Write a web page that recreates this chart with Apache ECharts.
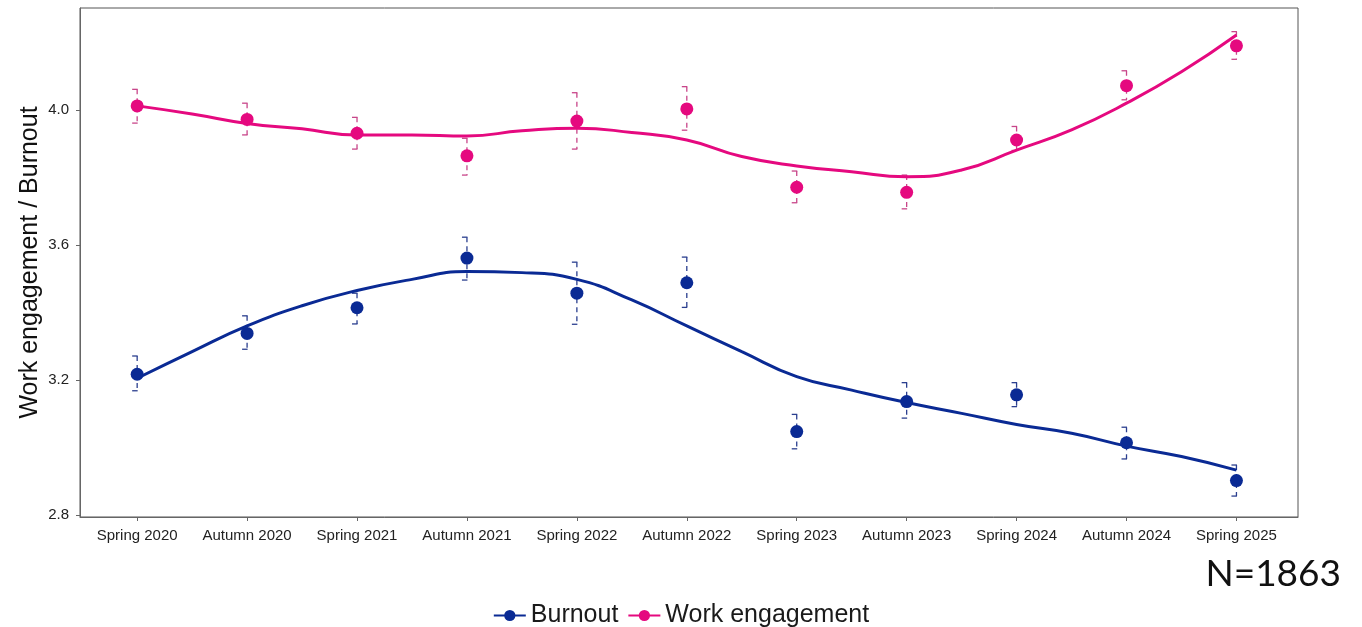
<!DOCTYPE html>
<html>
<head>
<meta charset="utf-8">
<script src="https://cdn.jsdelivr.net/npm/echarts@6/dist/echarts.min.js"></script>
<style>
  html, body { margin: 0; padding: 0; background: #fff; }
  #chart { width: 1362px; height: 627px; }
</style>
</head>
<body>
<div id="chart"></div>
<script>
// Survey waves
const categories = ['Spring 2020', 'Autumn 2020', 'Spring 2021', 'Autumn 2021', 'Spring 2022', 'Autumn 2022',
  'Spring 2023', 'Autumn 2023', 'Spring 2024', 'Autumn 2024', 'Spring 2025'];

// Burnout: wave means and confidence limits
const burnoutMean = [3.217, 3.338, 3.414, 3.561, 3.457, 3.488, 3.047, 3.136, 3.156, 3.014, 2.902];
const burnoutLow  = [3.168, 3.291, 3.366, 3.496, 3.365, 3.415, 2.996, 3.087, 3.121, 2.966, 2.856];
const burnoutHigh = [3.271, 3.390, 3.457, 3.623, 3.549, 3.564, 3.098, 3.192, 3.192, 3.060, 2.948];

// Work engagement: wave means and confidence limits
const engagementMean = [4.012, 3.972, 3.931, 3.864, 3.967, 4.003, 3.771, 3.756, 3.911, 4.072, 4.190];
const engagementLow  = [3.961, 3.926, 3.884, 3.807, 3.884, 3.940, 3.725, 3.707, 3.880, 4.030, 4.150];
const engagementHigh = [4.061, 4.020, 3.978, 3.916, 4.051, 4.069, 3.819, 3.807, 3.951, 4.116, 4.232];

// Smoothed trend curves, sampled every half wave
const trendX = [0, 0.5, 1, 1.5, 2, 2.5, 3, 3.5, 4, 4.5, 5, 5.5, 6, 6.5, 7, 7.5, 8, 8.5, 9, 9.5, 10];
const burnoutTrend = [3.205, 3.284, 3.360, 3.420, 3.465, 3.498, 3.521, 3.518, 3.498, 3.437, 3.360,
  3.284, 3.210, 3.170, 3.133, 3.101, 3.068, 3.042, 3.004, 2.973, 2.933];
const engagementTrend = [4.012, 3.988, 3.960, 3.944, 3.926, 3.926, 3.923, 3.938, 3.946, 3.933, 3.911,
  3.862, 3.834, 3.817, 3.802, 3.822, 3.881, 3.941, 4.020, 4.113, 4.222];

// Axis ticks
const yTicks = [2.8, 3.2, 3.6, 4.0];
const xTicks = categories.map((c, i) => i);

const BLUE = '#0a2a94';
const PINK = '#e5097f';
const FONT = '"Liberation Sans", Arial, sans-serif';

const pairs = (xs, ys) => xs.map((x, i) => [x, ys[i]]);
const bars = (lo, hi) => lo.map((l, i) => [i, l, hi[i]]);

// Dashed confidence interval with short caps
function errorBar(color) {
  return function (params, api) {
    const x = api.value(0);
    const top = api.coord([x, api.value(2)]);
    const bot = api.coord([x, api.value(1)]);
    const style = { stroke: color, lineWidth: 1.3, lineDash: [5, 4] };
    const cap = { stroke: color, lineWidth: 1.3 };
    return {
      type: 'group',
      children: [
        { type: 'line', shape: { x1: top[0], y1: top[1], x2: bot[0], y2: bot[1] }, style: style },
        { type: 'line', shape: { x1: top[0] - 5, y1: top[1], x2: top[0] + 0.5, y2: top[1] }, style: cap },
        { type: 'line', shape: { x1: bot[0] - 5, y1: bot[1], x2: bot[0] + 0.5, y2: bot[1] }, style: cap }
      ]
    };
  };
}

const chart = echarts.init(document.getElementById('chart'), null, { renderer: 'canvas' });
chart.setOption({
  animation: false,
  backgroundColor: '#fff',
  textStyle: { fontFamily: FONT },
  grid: {
    left: 80, right: 64, top: 8, bottom: 110,
    show: true, borderColor: '#555', borderWidth: 1, backgroundColor: 'transparent'
  },
  legend: {
    data: ['Burnout', 'Work engagement'],
    top: 603,
    left: 'center',
    padding: 0,
    itemWidth: 32,
    itemHeight: 14,
    itemGap: 9,
    textStyle: { fontSize: 25, color: '#1a1a1a', fontFamily: FONT }
  },
  xAxis: {
    type: 'value',
    min: -0.52,
    max: 10.56,
    splitLine: { show: false },
    axisLine: { show: true, onZero: false, lineStyle: { color: '#666', width: 1 } },
    axisTick: { show: true, customValues: xTicks, length: 4, lineStyle: { color: '#666' } },
    axisLabel: {
      customValues: xTicks,
      formatter: (v) => categories[Math.round(v)],
      color: '#222', fontSize: 15, margin: 11, fontFamily: FONT
    }
  },
  yAxis: {
    type: 'value',
    min: 2.794,
    max: 4.302,
    name: 'Work engagement / Burnout',
    nameLocation: 'middle',
    nameGap: 37,
    nameMoveOverlap: false,
    nameTextStyle: { fontSize: 25, color: '#111', fontFamily: FONT },
    splitLine: { show: false },
    axisLine: { show: true, onZero: false, lineStyle: { color: '#666', width: 1 } },
    axisTick: { show: true, customValues: yTicks, length: 4, lineStyle: { color: '#666' } },
    axisLabel: {
      customValues: yTicks,
      formatter: (v) => v.toFixed(1),
      color: '#222', fontSize: 15, margin: 11, fontFamily: FONT
    }
  },
  series: [
    {
      name: 'Burnout', type: 'line', data: pairs(trendX, burnoutTrend),
      smooth: true, showSymbol: false, symbol: 'circle', symbolSize: 12,
      itemStyle: { color: BLUE }, lineStyle: { color: BLUE, width: 3 }, z: 3
    },
    {
      name: 'Work engagement', type: 'line', data: pairs(trendX, engagementTrend),
      smooth: true, showSymbol: false, symbol: 'circle', symbolSize: 12,
      itemStyle: { color: PINK }, lineStyle: { color: PINK, width: 3 }, z: 3
    },
    {
      name: 'Burnout', type: 'custom', data: bars(burnoutLow, burnoutHigh),
      renderItem: errorBar('#2b3f8f'), z: 2
    },
    {
      name: 'Work engagement', type: 'custom', data: bars(engagementLow, engagementHigh),
      renderItem: errorBar('#c8468a'), z: 2
    },
    {
      name: 'Burnout', type: 'scatter', data: pairs(xTicks, burnoutMean),
      symbol: 'circle', symbolSize: 13, itemStyle: { color: BLUE, opacity: 1 }, z: 4
    },
    {
      name: 'Work engagement', type: 'scatter', data: pairs(xTicks, engagementMean),
      symbol: 'circle', symbolSize: 13, itemStyle: { color: PINK, opacity: 1 }, z: 4
    }
  ],
  graphic: [
    {
      type: 'text', right: 21, top: 556,
      style: { text: 'N=1863', fontSize: 37, fill: '#111', fontFamily: 'Lato, "Open Sans", sans-serif' }
    }
  ]
});
</script>
</body>
</html>
